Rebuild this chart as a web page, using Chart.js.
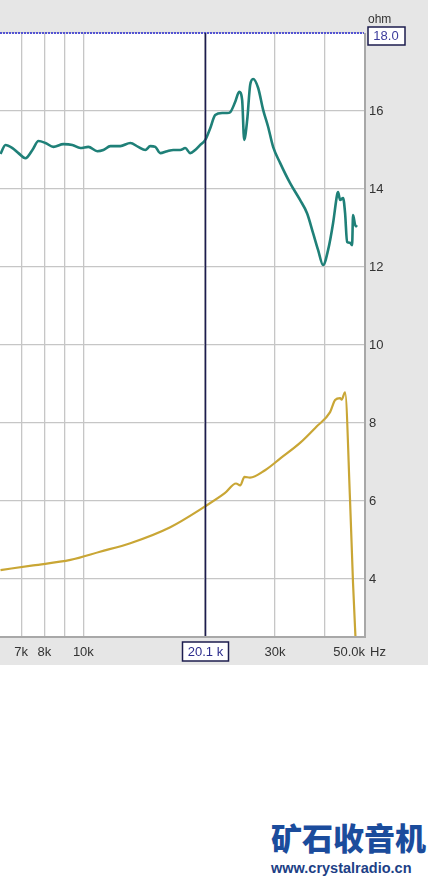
<!DOCTYPE html>
<html>
<head>
<meta charset="utf-8">
<script src="https://cdn.jsdelivr.net/npm/chart.js@4.4.1/dist/chart.umd.min.js"></script>
<style>
  html, body { margin: 0; padding: 0; background: #fff; }
  #wrap { position: absolute; left: 0; top: 0; width: 428px; height: 665px; background: #e6e6e6; }
  #mark { position: absolute; left: 271px; top: 818px; width: 160px; font-family: "Noto Sans CJK SC", sans-serif; color: #1b4c9c; }
  #mark .cn { font-size: 31px; font-weight: 900; letter-spacing: 0px; line-height: 38px; }
  #mark .url { font-family: "Liberation Sans", Arial, sans-serif; font-size: 14.5px; font-weight: bold; color: #1d3f86; line-height: 18px; margin-top: 3px; }
</style>
</head>
<body>
<div id="wrap"><canvas id="graf" width="428" height="665"></canvas></div>
<div id="mark"><div class="cn">矿石收音机</div><div class="url">www.crystalradio.cn</div></div>
<script>
/* dados */
var freqImpedancia = [6218, 6397, 6660, 6892, 7173, 7466, 7731, 8047, 8425, 8919, 9389, 9829, 10290, 10835, 11215, 11675,
  12360, 13090, 13700, 14265, 14680, 15105, 15540, 16180, 16750, 17430, 17940, 18460, 18990, 19550, 20120, 20700,
  21300, 22170, 22810, 23210, 23880, 24440, 24860, 25150, 25590, 26030, 26480, 27250, 28040, 28860, 29690, 30900,
  32730, 34650, 36070, 37340, 38420, 39540, 40700, 41880, 42850, 43090, 43590, 44350, 44860, 45380, 46170, 46700,
  46960, 47510, 48060];
var impedancia = [14.9, 15.13, 15.05, 14.92, 14.79, 15.0, 15.23, 15.18, 15.08, 15.15, 15.13, 15.05, 15.08, 14.97, 15.0, 15.1,
  15.1, 15.18, 15.08, 15.0, 15.1, 15.08, 14.92, 14.97, 15.0, 15.0, 15.05, 14.92, 15.0, 15.13, 15.26, 15.56,
  15.9, 15.95, 15.95, 15.97, 16.23, 16.49, 16.28, 15.26, 15.77, 16.67, 16.82, 16.59, 16.03, 15.59, 15.08, 14.67,
  14.15, 13.72, 13.38, 12.87, 12.44, 12.05, 12.44, 13.13, 13.85, 13.92, 13.72, 13.77, 13.38, 12.64, 12.62, 12.56,
  13.33, 13.08, 13.03];

var freqAmarela = [6218, 7500, 9285, 11000, 13090, 16460, 20000, 22500, 24000, 24580, 25200, 26000, 28350, 31000, 34650,
  38000, 41160, 42360, 43590, 44000, 44850, 46150, 46950, 47770];
var amarela = [4.23, 4.35, 4.49, 4.7, 4.92, 5.33, 5.85, 6.2, 6.45, 6.4, 6.62, 6.6, 6.79, 7.1, 7.49,
  7.9, 8.28, 8.59, 8.64, 8.6, 8.79, 6.03, 3.9, 2.2];

var ticksY = [4, 6, 8, 10, 12, 14, 16, 18];
var ticksX = [7000, 8000, 9000, 10000, 20000, 30000, 40000];
var rotulosX = { 7000: '7k', 8000: '8k', 10000: '10k', 30000: '30k' };

var cursorFreq = 20100;
var fonte = '13px "Liberation Sans", Arial, sans-serif';

function pontos(xs, ys) {
  return xs.map(function (f, i) { return { x: f, y: ys[i] }; });
}

/* desenhos extras: cursor, caixas e rótulos */
var extras = {
  id: 'extras',
  afterDatasetsDraw: function (chart) {
    var c = chart.ctx, a = chart.chartArea;
    var sx = chart.scales.x, sy = chart.scales.y;
    c.save();
    // borda direita e inferior
    c.strokeStyle = '#a8a8a8';
    c.lineWidth = 2;
    c.beginPath();
    c.moveTo(a.right + 1, a.top);
    c.lineTo(a.right + 1, a.bottom + 1);
    c.lineTo(a.left, a.bottom + 1);
    c.stroke();
    // linha superior pontilhada
    c.strokeStyle = '#5454d4';
    c.lineWidth = 2;
    c.setLineDash([2, 1]);
    c.beginPath();
    c.moveTo(a.left, a.top);
    c.lineTo(a.right, a.top);
    c.stroke();
    c.setLineDash([]);
    // cursor
    var cx = Math.round(sx.getPixelForValue(cursorFreq)) + 0.5;
    c.strokeStyle = '#1c1c4e';
    c.lineWidth = 1.6;
    c.beginPath();
    c.moveTo(cx, a.top);
    c.lineTo(cx, a.bottom);
    c.stroke();
    // caixa do cursor
    c.font = fonte;
    c.textBaseline = 'middle';
    c.textAlign = 'center';
    c.fillStyle = '#fff';
    c.fillRect(cx - 23, a.bottom + 6, 46, 19);
    c.strokeStyle = '#1c1c4e';
    c.lineWidth = 1.5;
    c.strokeRect(cx - 23, a.bottom + 6, 46, 19);
    c.fillStyle = '#2c2c8c';
    c.fillText('20.1 k', cx, a.bottom + 16);
    // caixa 18.0
    var ty = sy.getPixelForValue(18);
    c.fillStyle = '#fff';
    c.fillRect(a.right + 4, ty - 6, 37, 18);
    c.strokeStyle = '#1c1c4e';
    c.strokeRect(a.right + 4, ty - 6, 37, 18);
    c.fillStyle = '#3c3c9c';
    c.fillText('18.0', a.right + 22, ty + 3);
    c.fillStyle = '#333';
    c.font = '12px "Liberation Sans", Arial, sans-serif';
    c.textAlign = 'left';
    c.fillText('ohm', a.right + 4, ty - 13);
    // fim do eixo x
    c.font = fonte;
    c.fillStyle = '#333';
    c.textAlign = 'right';
    c.fillText('50.0k', a.right + 1, a.bottom + 16);
    c.textAlign = 'left';
    c.fillText('Hz', a.right + 6, a.bottom + 16);
    c.restore();
  }
};

var fundo = {
  id: 'fundo',
  beforeDraw: function (chart) {
    var c = chart.ctx, a = chart.chartArea;
    c.save();
    c.fillStyle = '#ffffff';
    c.fillRect(a.left, a.top, a.right - a.left, a.bottom - a.top);
    c.restore();
  }
};

var ctx = document.getElementById('graf').getContext('2d');
var chart = new Chart(ctx, {
  type: 'line',
  data: {
    datasets: [{
      data: pontos(freqImpedancia, impedancia),
      borderColor: '#1f8078',
      borderWidth: 2.6,
      pointRadius: 0,
      cubicInterpolationMode: 'monotone',
      fill: false
    }, {
      data: pontos(freqAmarela, amarela),
      borderColor: '#c9a635',
      borderWidth: 2.2,
      pointRadius: 0,
      cubicInterpolationMode: 'monotone',
      fill: false
    }]
  },
  options: {
    responsive: false,
    animation: false,
    layout: { padding: { top: 33, left: 0, right: 0, bottom: 0 } },
    plugins: { legend: { display: false }, tooltip: { enabled: false } },
    scales: {
      x: {
        type: 'logarithmic',
        min: 6200,
        max: 50000,
        afterBuildTicks: function (s) { s.ticks = ticksX.map(function (v) { return { value: v }; }); },
        afterFit: function (s) { s.height = 29; },
        ticks: {
          autoSkip: false,
          maxRotation: 0,
          padding: 9,
          color: '#333',
          font: { family: '"Liberation Sans", Arial, sans-serif', size: 13 },
          callback: function (v) { return rotulosX[v] || ''; }
        },
        grid: { color: '#c6c6c6', lineWidth: 1.3, drawTicks: false },
        border: { display: false }
      },
      y: {
        position: 'right',
        min: 2.54,
        max: 18,
        afterBuildTicks: function (s) { s.ticks = ticksY.map(function (v) { return { value: v }; }); },
        afterFit: function (s) { s.width = 64; },
        ticks: {
          padding: 5,
          color: '#333',
          font: { family: '"Liberation Sans", Arial, sans-serif', size: 13 },
          callback: function (v) { return v === 18 ? '' : String(v); }
        },
        grid: { color: '#c6c6c6', lineWidth: 1.3, drawTicks: false },
        border: { display: false }
      }
    }
  },
  plugins: [fundo, extras]
});
</script>
</body>
</html>
